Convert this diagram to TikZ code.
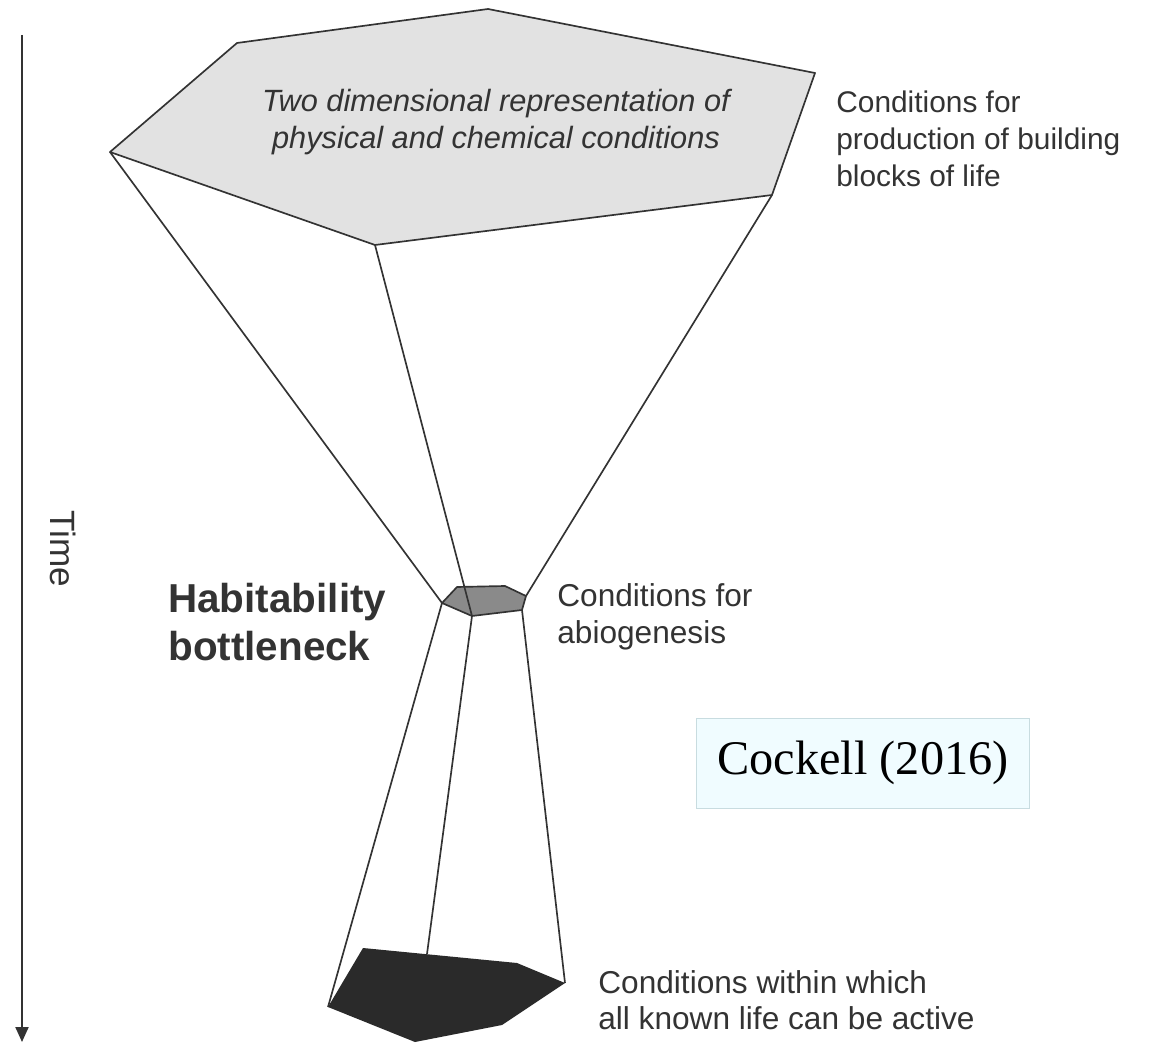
\documentclass[tikz,border=0pt]{standalone}
\usepackage{fontspec}
\setmainfont{Liberation Sans}
\newfontfamily\citefont{Liberation Serif}
\usetikzlibrary{positioning,arrows.meta}

\definecolor{ink}{HTML}{333333}
\definecolor{lightgrey}{HTML}{E2E2E2}
\definecolor{midgrey}{HTML}{8A8A8A}
\definecolor{darkfill}{HTML}{2A2A2A}
\definecolor{citefill}{HTML}{F0FCFF}
\definecolor{citeedge}{HTML}{C8DCE0}

\tikzset{
  edgeline/.style={draw=ink,line width=0.95pt,line join=round},
  lbl/.style={text=ink,font=\fontsize{17.5}{21}\selectfont,align=left,inner sep=0pt},
}

\begin{document}
\begin{tikzpicture}[x=0.02cm,y=-0.02cm]
\useasboundingbox (0,0) rectangle (1152,1043);

% big hexagon (building blocks)
\coordinate (b1) at (488,9);
\coordinate (b2) at (237,43);
\coordinate (b3) at (110,152);
\coordinate (b4) at (375,245);
\coordinate (b5) at (772,195);
\coordinate (b6) at (815,73);
% small hexagon (abiogenesis)
\coordinate (s1) at (442,603);
\coordinate (s2) at (457,587);
\coordinate (s3) at (505,586);
\coordinate (s4) at (526,596);
\coordinate (s5) at (522,610);
\coordinate (s6) at (472,616);
% dark shape (active life)
\coordinate (d1) at (328,1007);
\coordinate (d2) at (363,948);
\coordinate (d3) at (517,963);
\coordinate (d4) at (565,983);
\coordinate (d5) at (502,1025);
\coordinate (d6) at (415,1042);
\coordinate (dtop) at (427,954);

\fill[lightgrey] (b1) -- (b2) -- (b3) -- (b4) -- (b5) -- (b6) -- cycle;
\draw[edgeline] (b1) -- (b2) -- (b3) -- (b4) -- (b5) -- (b6) -- cycle;
\filldraw[edgeline,fill=midgrey] (s1) -- (s2) -- (s3) -- (s4) -- (s5) -- (s6) -- cycle;
\fill[darkfill] (d1) -- (d2) -- (d3) -- (d4) -- (d5) -- (d6) -- cycle;

\draw[edgeline] (b3) -- (s1);
\draw[edgeline] (b4) -- (s6);
\draw[edgeline] (b5) -- (s4);
\draw[edgeline] (s1) -- (d1);
\draw[edgeline] (s6) -- (dtop);
\draw[edgeline] (s5) -- (d4);

% time axis
\coordinate (timetop) at (22,35);
\coordinate (timebot) at (22,1042);
\draw[ink,line width=1.2pt,-{Triangle[length=0.3cm,width=0.26cm]}] (timetop) -- (timebot);
\node[lbl,font=\fontsize{20}{21}\selectfont,rotate=-90] (time) at (63,549) {Time};

\node[lbl,align=center,font=\fontsize{17.5}{21}\selectfont\itshape] (twodim) at (496,122)
  {Two dimensional representation of\\physical and chemical conditions};
\node[lbl,anchor=west,font=\fontsize{17}{21}\selectfont] (blocks) at (836,139)
  {Conditions for\\production of building\\blocks of life};
\node[lbl,anchor=west,font=\fontsize{23}{27}\bfseries] (bottle) at (168,622)
  {Habitability\\bottleneck};
\node[lbl,anchor=west,font=\fontsize{18}{21}\selectfont] (abio) at (557,617)
  {Conditions for\\abiogenesis};
\node[lbl,anchor=west,font=\fontsize{18}{20.5}\selectfont] (active) at (598,1000)
  {Conditions within which\\all known life can be active};

\node[draw=citeedge,fill=citefill,minimum width=6.66cm,minimum height=1.8cm,
  font=\citefont\fontsize{27.5}{30}\selectfont] (cite) at (863,763) {Cockell (2016)};
\end{tikzpicture}
\end{document}
